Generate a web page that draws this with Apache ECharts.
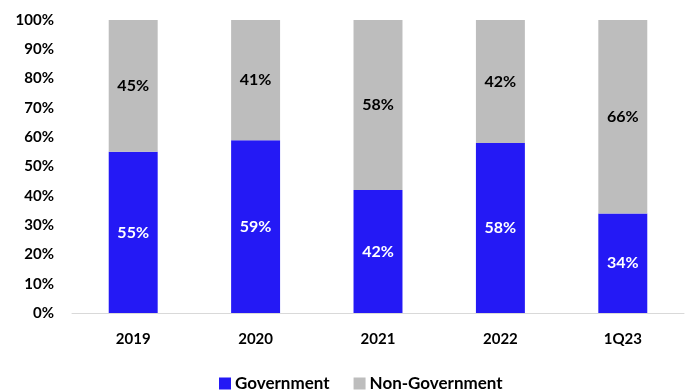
<!DOCTYPE html>
<html>
<head>
<meta charset="utf-8">
<script src="https://cdn.jsdelivr.net/npm/echarts@6/dist/echarts.min.js"></script>
<style>
  html, body { margin: 0; padding: 0; background: #fff; }
  #chart { width: 690px; height: 392px; }
</style>
</head>
<body>
<div id="chart"></div>
<script>
// Share of revenue by customer type, per period (percent)
const categories = ['2019', '2020', '2021', '2022', '1Q23'];
const government = [55, 59, 42, 58, 34];
const nonGovernment = [45, 41, 58, 42, 66];
const yTicks = [0, 10, 20, 30, 40, 50, 60, 70, 80, 90, 100];

const FONT = 'Lato, "Open Sans", sans-serif';

const chart = echarts.init(document.getElementById('chart'), null, { renderer: 'canvas' });

const labelStyle = (color) => ({
  show: true,
  position: 'inside',
  formatter: (p) => p.value + '%',
  color: color,
  fontFamily: FONT,
  fontWeight: 'bold',
  fontSize: 16
});

chart.setOption({
  animation: false,
  textStyle: { fontFamily: FONT },
  grid: { left: 72, right: 6, top: 20, bottom: 79 },
  legend: {
    bottom: -5,
    left: 214,
    itemWidth: 12,
    itemHeight: 12,
    itemGap: 24,
    icon: 'rect',
    textStyle: { fontFamily: FONT, fontWeight: 'bold', fontSize: 17, color: '#000', padding: [0, 0, 0, -1] },
    data: ['Government', 'Non-Government']
  },
  xAxis: {
    type: 'category',
    data: categories,
    axisLine: { lineStyle: { color: '#d9d9d9', width: 1 } },
    axisTick: { show: false },
    axisLabel: { color: '#000', fontWeight: 'bold', fontSize: 15, fontFamily: FONT, margin: 19 }
  },
  yAxis: {
    type: 'value',
    min: yTicks[0],
    max: yTicks[yTicks.length - 1],
    interval: 10,
    splitLine: { show: false },
    axisLine: { show: false },
    axisTick: { show: false },
    axisLabel: { color: '#000', fontWeight: 'bold', fontSize: 15, fontFamily: FONT, margin: 18, formatter: '{value}%' }
  },
  series: [
    {
      name: 'Government',
      type: 'bar',
      stack: 'total',
      barWidth: '40%',
      data: government,
      itemStyle: { color: '#2419F5' },
      label: labelStyle('#fff')
    },
    {
      name: 'Non-Government',
      type: 'bar',
      stack: 'total',
      barWidth: '40%',
      data: nonGovernment,
      itemStyle: { color: '#BDBDBD' },
      label: labelStyle('#000')
    }
  ]
});
</script>
</body>
</html>
